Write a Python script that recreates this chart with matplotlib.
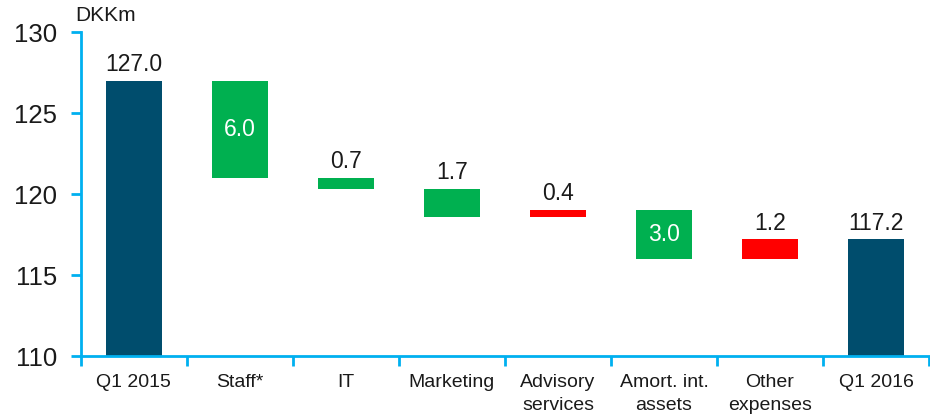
import matplotlib
matplotlib.use("Agg")
from matplotlib import pyplot as plt
import numpy as np

plt.rcParams['font.family'] = ['Liberation Sans', 'DejaVu Sans']

categories = ['Q1 2015', 'Staff*', 'IT', 'Marketing', 'Advisory\nservices',
              'Amort. int.\nassets', 'Other\nexpenses', 'Q1 2016']
start_value = 127.0
changes = [-6.0, -0.7, -1.7, 0.4, -3.0, 1.2]
end_value = 117.2
labels = ['127.0', '6.0', '0.7', '1.7', '0.4', '3.0', '1.2', '117.2']
inside = [False, True, False, False, False, True, False, False]

dark_blue = '#004D6D'
green = '#00B050'
red = '#FF0000'
axis_blue = '#00B0F0'
base = 110

bottoms = []
heights = []
colors = []
bottoms.append(base)
heights.append(start_value - base)
colors.append(dark_blue)
level = start_value
for c in changes:
    new = level + c
    bottoms.append(min(level, new))
    heights.append(abs(c))
    colors.append(green if c < 0 else red)
    level = new
bottoms.append(base)
heights.append(end_value - base)
colors.append(dark_blue)

fig = plt.figure(figsize=(9.3, 4.17), dpi=100)
ax = fig.add_axes([0.087, 0.146, 0.912, 0.777])

x = np.arange(len(categories))
ax.bar(x, heights, bottom=bottoms, width=0.53, color=colors)

for i in range(len(categories)):
    top = bottoms[i] + heights[i]
    if inside[i]:
        ax.text(x[i], bottoms[i] + heights[i] / 2, labels[i], ha='center', va='center',
                color='white', fontsize=16.5)
    else:
        ax.text(x[i], top + 0.3, labels[i], ha='center', va='bottom',
                color='#1a1a1a', fontsize=16.5)

ax.set_xlim(-0.5, len(categories) - 0.5)
ax.set_ylim(110, 130)
ax.set_yticks([110, 115, 120, 125, 130])
ax.set_xticks(x)
ax.set_xticklabels(categories, fontsize=14, color='#1a1a1a', linespacing=1.45)
ax.set_xticks(np.arange(-0.5, len(categories) + 0.5, 1), minor=True)
ax.tick_params(axis='x', which='major', length=0, pad=13)
ax.tick_params(axis='x', which='minor', length=7, width=2, color=axis_blue, direction='out')
ax.tick_params(axis='y', labelsize=18.5, length=7, width=2, color=axis_blue,
               labelcolor='#1a1a1a', pad=10)

for side in ['top', 'right']:
    ax.spines[side].set_visible(False)
for side in ['left', 'bottom']:
    ax.spines[side].set_color(axis_blue)
    ax.spines[side].set_linewidth(2)

fig.text(0.081, 0.963, 'DKKm', fontsize=15, color='#1a1a1a', ha='left', va='center')

fig.savefig('out.png', dpi=100)
